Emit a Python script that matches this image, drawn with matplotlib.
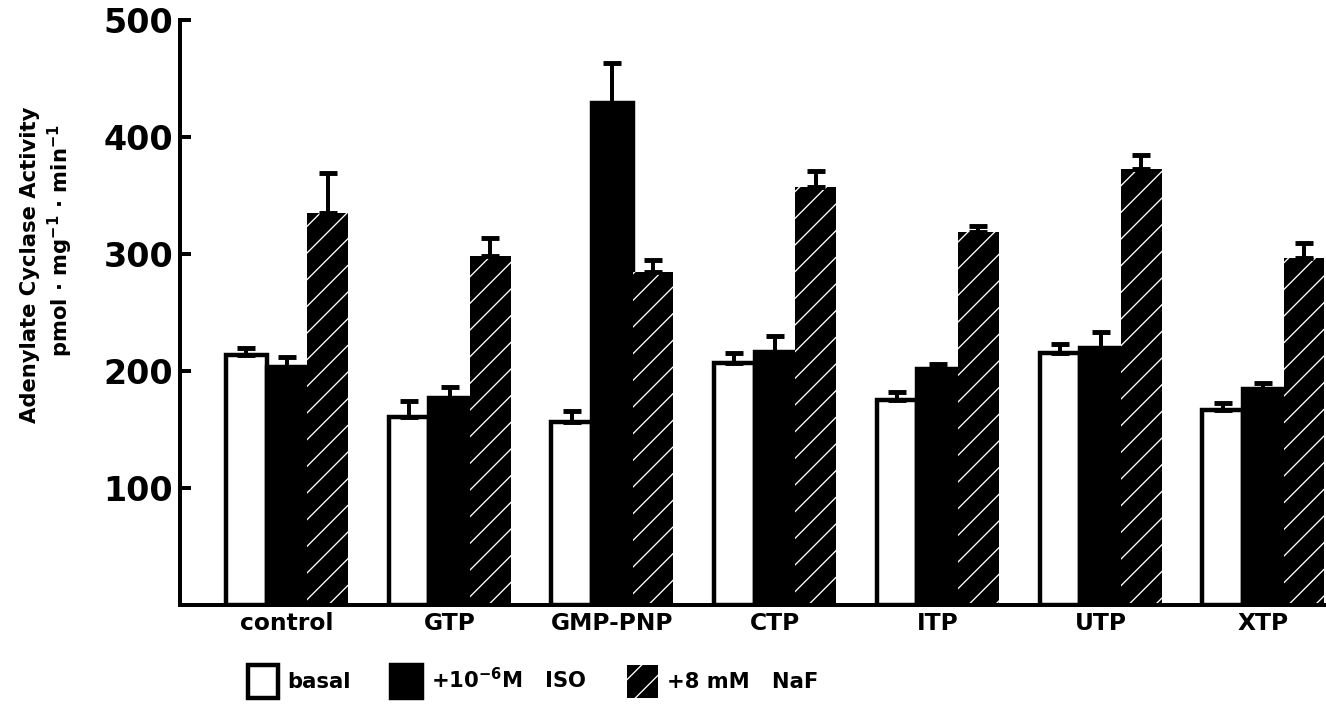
import numpy as np
import matplotlib
matplotlib.use("Agg")
import matplotlib.pyplot as plt

groups    = ["control", "GTP", "GMP-PNP", "CTP", "ITP", "UTP", "XTP"]
basal     = [214, 161, 156, 207, 175, 215, 167]
basal_err = [6, 13, 10, 8, 7, 8, 6]
iso       = [203, 177, 429, 216, 202, 220, 185]
iso_err   = [9, 9, 34, 14, 4, 13, 5]
naf       = [335, 298, 285, 357, 319, 373, 297]
naf_err   = [34, 16, 10, 14, 5, 12, 12]
yticks    = [100, 200, 300, 400, 500]
labels    = ["basal", "+10$^{-6}$M   ISO", "+8 mM   NaF"]

DPI = 160
plt.rcParams["font.family"] = ["DejaVu Sans"]
plt.rcParams["font.weight"] = "bold"
plt.rcParams["mathtext.default"] = "bf"
plt.rcParams["hatch.linewidth"] = 0.6

fig = plt.figure(figsize=(1326 / DPI, 708 / DPI), dpi=DPI)
ax = fig.add_axes([180 / 1326, 103 / 708, 1 - 180 / 1326, 585 / 708])

x = np.arange(len(groups))
w = 0.25
lw = 2.0

b1 = ax.bar(x - w, basal, w, color="white", edgecolor="black", linewidth=lw)
b2 = ax.bar(x, iso, w, color="black", edgecolor="black", linewidth=lw)
b3 = ax.bar(x + w, naf, w, color="black", edgecolor="white", linewidth=0,
            hatch="//")

for xs, ys, es in [(x - w, basal, basal_err), (x, iso, iso_err),
                   (x + w, naf, naf_err)]:
    ax.errorbar(xs, ys, yerr=[np.zeros(len(es)), es], fmt="none",
                ecolor="black", elinewidth=1.8, capsize=4.2, capthick=2.2)

ax.set_xlim(-0.658, 6.386)
ax.set_ylim(0, 500)
ax.set_yticks(yticks)
ax.set_yticklabels([str(v) for v in yticks], fontsize=15, fontweight="bold")
ax.set_xticks(x)
ax.set_xticklabels(groups, fontsize=10.5, fontweight="bold")
ax.tick_params(axis="y", direction="in", length=5, width=1.8, pad=3)
ax.tick_params(axis="x", length=0, pad=3)

for s in ["top", "right"]:
    ax.spines[s].set_visible(False)
for s in ["left", "bottom"]:
    ax.spines[s].set_linewidth(1.8)

fig.text(30 / 1326, 1 - 265 / 708, "Adenylate Cyclase Activity",
         rotation=90, ha="center", va="center", fontsize=9.5, fontweight="bold")
fig.text(60 / 1326, 1 - 240 / 708, "pmol · mg$^{-1}$ · min$^{-1}$",
         rotation=90, ha="center", va="center", fontsize=9.5, fontweight="bold")

fig.legend([b1, b2, b3], labels, loc="center", bbox_to_anchor=(0.402, 0.037),
           ncol=3, frameon=False, handlelength=1.45,
           handleheight=2.05, handletextpad=0.45, columnspacing=1.9,
           prop={"weight": "bold", "size": 9.5})

fig.savefig("out.png", dpi=DPI)
